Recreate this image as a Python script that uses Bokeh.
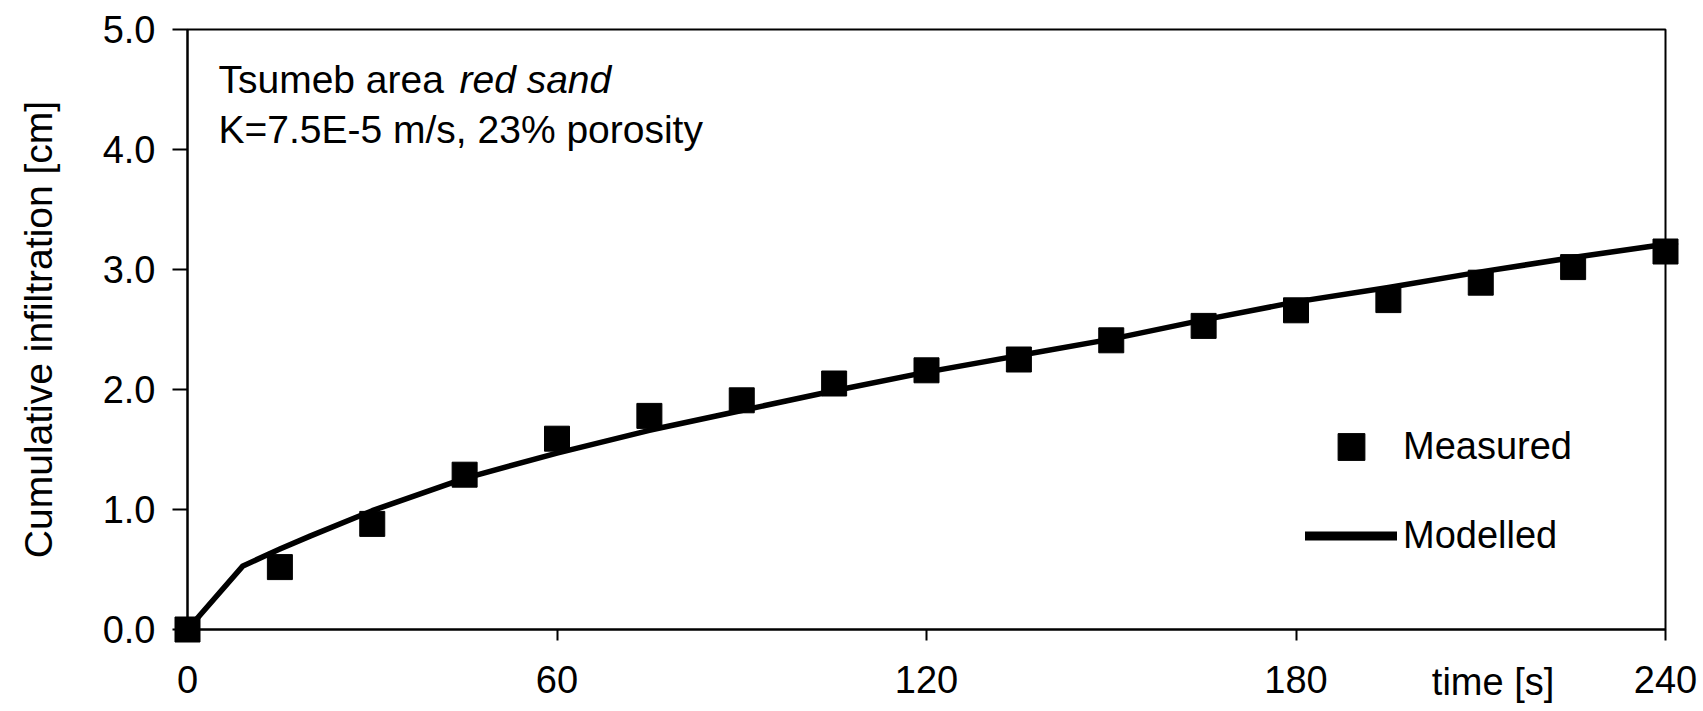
from bokeh.plotting import figure
from bokeh.models import (Range1d, FixedTicker, PrintfTickFormatter, Label, Legend, LegendItem,
                          LinearAxis)
from bokeh.embed import file_html
from bokeh.resources import INLINE

# ---- data ----
time_measured = [0, 15, 30, 45, 60, 75, 90, 105, 120, 135, 150, 165, 180, 195, 210, 225, 240]
measured = [0.00, 0.52, 0.88, 1.29, 1.59, 1.78, 1.91, 2.05, 2.16, 2.25, 2.41, 2.53, 2.66, 2.745, 2.89, 3.02, 3.15]

time_model = [0, 9, 15, 20, 30, 45, 60, 75, 90, 105, 120, 135, 150, 165, 180, 195, 210, 225, 240, 242]
modelled = [0.00, 0.53, 0.67, 0.78, 0.99, 1.26, 1.47, 1.66, 1.825, 1.99, 2.145, 2.283, 2.42, 2.58, 2.73, 2.85, 2.98, 3.10, 3.21, 3.23]

x_ticks = [0, 60, 120, 180, 240]
y_ticks = [0.0, 1.0, 2.0, 3.0, 4.0, 5.0]
x_title = "time [s]"
x_title_at = 212  # centre of the x title, in seconds

FONT = "Liberation Sans"

p = figure(width=1703, height=711, x_range=Range1d(0, 240), y_range=Range1d(0, 5),
           output_backend="svg", toolbar_location=None,
           min_border_left=187, min_border_right=38, min_border_top=29, min_border_bottom=82)

p.xgrid.visible = False
p.ygrid.visible = False
p.outline_line_color = "black"
p.outline_line_width = 2
p.outline_line_alpha = 1.0
p.background_fill_color = "white"
p.border_fill_color = "white"

for ax in (p.xaxis[0], p.yaxis[0]):
    ax.axis_line_width = 2
    ax.axis_line_color = "black"
    ax.major_tick_line_width = 2
    ax.major_tick_line_color = "black"
    ax.minor_tick_line_color = None
    ax.major_tick_in = 0
    ax.major_label_text_font = FONT
    ax.major_label_text_font_size = "38px"
    ax.major_label_text_color = "black"

p.xaxis.ticker = FixedTicker(ticks=x_ticks)
p.xaxis.major_tick_out = 11
p.xaxis.major_label_standoff = 25

# second, bare axis that carries only the x title on the tick-label row
title_axis = LinearAxis(ticker=FixedTicker(ticks=[x_title_at]),
                        major_label_overrides={x_title_at: x_title},
                        axis_line_color=None, major_tick_line_color=None,
                        minor_tick_line_color=None, major_tick_in=0, major_tick_out=0,
                        major_label_standoff=-35,
                        major_label_text_font=FONT, major_label_text_font_size="38px",
                        major_label_text_color="black")
p.add_layout(title_axis, "below")

p.yaxis.ticker = FixedTicker(ticks=y_ticks)
p.yaxis.formatter = PrintfTickFormatter(format="%.1f")
p.yaxis.major_tick_out = 15
p.yaxis.major_label_standoff = 17
p.yaxis.axis_label = "Cumulative infiltration [cm]"
p.yaxis.axis_label_text_font = FONT
p.yaxis.axis_label_text_font_size = "39px"
p.yaxis.axis_label_text_font_style = "normal"
p.yaxis.axis_label_text_color = "black"
p.yaxis.axis_label_standoff = 40

# ---- glyphs ----
ln = p.line(time_model, modelled, line_color="black", line_width=5.5, line_join="round")
ln.level = "overlay"
sq = p.scatter(time_measured, measured, marker="square", size=25,
               fill_color="black", line_color="black")
sq.level = "overlay"

# legend-only renderer for the thicker legend line (nothing drawn in the plot)
leg_line = p.line([float("nan")], [float("nan")], line_color="black", line_width=9, line_cap="round")

legend = Legend(items=[LegendItem(label="Measured", renderers=[sq]),
                       LegendItem(label="Modelled", renderers=[leg_line])],
                location=(1118, 60), glyph_width=92, glyph_height=67, spacing=22,
                label_standoff=6, padding=0, margin=0,
                border_line_color=None, background_fill_alpha=0,
                label_text_font=FONT, label_text_font_size="38px", label_text_color="black")
p.add_layout(legend)

# ---- texts ----
p.add_layout(Label(x=5.03, y=4.585, text="Tsumeb area ", text_font=FONT, text_font_size="39px",
                   text_color="black", text_baseline="alphabetic"))
p.add_layout(Label(x=5.03, y=4.585, x_offset=241, text="red sand", text_font=FONT,
                   text_font_size="39px", text_font_style="italic",
                   text_color="black", text_baseline="alphabetic"))
p.add_layout(Label(x=5.03, y=4.165, text="K=7.5E-5 m/s, 23% porosity", text_font=FONT,
                   text_font_size="39px", text_color="black", text_baseline="alphabetic"))

open("out.html", "w").write(file_html(p, INLINE))
